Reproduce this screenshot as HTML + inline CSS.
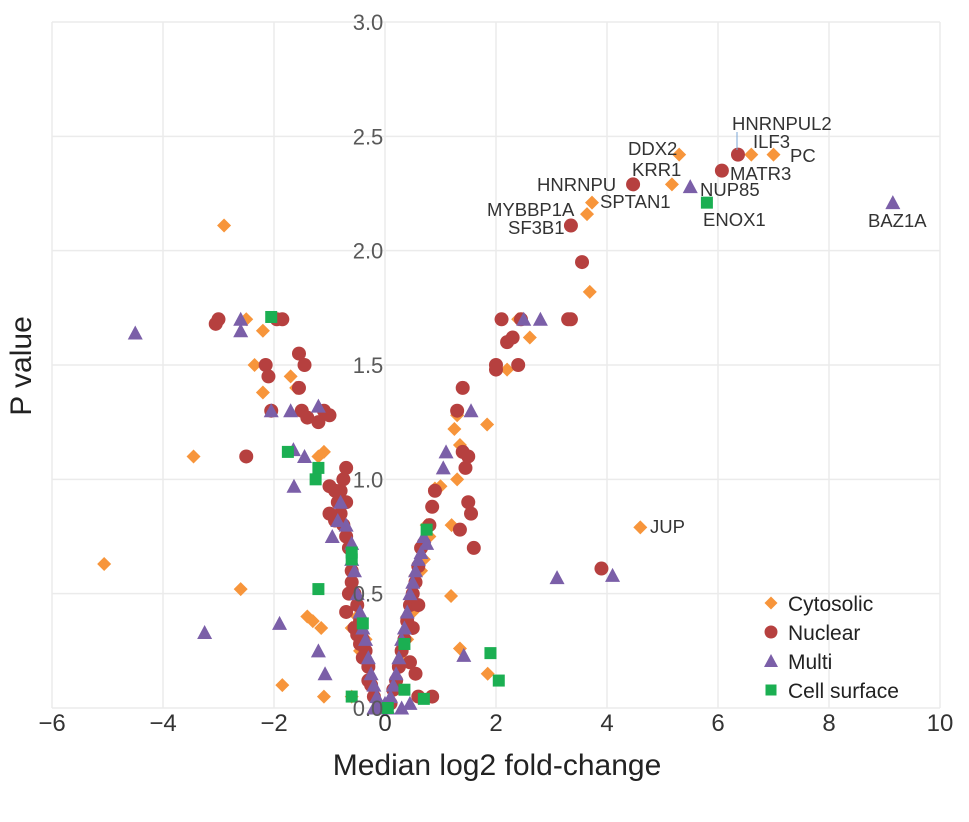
<!DOCTYPE html>
<html><head><meta charset="utf-8"><style>
html,body{margin:0;padding:0;background:#fff}
svg{display:block;font-family:"Liberation Sans",sans-serif}
</style></head><body>
<svg id="chart" width="969" height="822"></svg>
<script>
const cytoX=[-5.06,-2.9,-3.45,-2.6,-1.85,-2.35,-2.2,-2.5,-1.7,-1.6,-2.2,-1.2,-1.1,-1.4,-1.3,-1.15,-1.1,-0.6,1.3,1.25,1.35,1.0,0.9,1.3,1.2,1.19,1.84,1.35,1.85,0.75,0.8,2.2,2.61,2.0,3.35,3.69,2.4,3.64,3.73,5.17,5.3,6.6,7.0,4.6,-0.35,-0.45,-0.5,-0.6,0.4,0.5,0.55,0.65,0.7,0.35,0.4];
const cytoY=[0.63,2.11,1.1,0.52,0.1,1.5,1.65,1.7,1.45,1.4,1.38,1.1,1.12,0.4,0.38,0.35,0.05,0.05,1.28,1.22,1.15,0.97,0.96,1.0,0.8,0.49,1.24,0.26,0.15,0.8,0.75,1.48,1.62,1.5,1.7,1.82,1.7,2.16,2.21,2.29,2.42,2.42,2.42,0.79,0.3,0.25,0.4,0.35,0.4,0.42,0.58,0.6,0.65,0.2,0.3];
const nucX=[-3.0,-3.05,-2.5,-2.15,-2.1,-2.05,-1.95,-1.85,-1.55,-1.45,-1.55,-1.5,-1.4,-1.1,-1.0,-1.2,-0.7,-0.8,-1.0,1.4,1.3,1.4,1.5,1.45,1.5,1.55,1.35,1.6,2.2,2.0,2.0,2.4,2.3,2.1,2.45,3.3,3.35,3.35,3.55,4.47,6.07,6.36,3.9,
-0.2,-0.25,-0.3,-0.35,-0.4,-0.45,-0.5,-0.55,-0.6,-0.6,-0.65,-0.7,-0.75,-0.8,-0.85,-0.9,-0.7,-0.75,-0.3,-0.4,-0.5,-0.45,-0.9,-1.0,-0.65,-0.7,-0.55,
0.1,0.15,0.2,0.25,0.3,0.35,0.4,0.45,0.5,0.55,0.6,0.65,0.7,0.8,0.85,0.9,0.6,0.5,0.45,0.55,0.6,0.85];
const nucY=[1.7,1.68,1.1,1.5,1.45,1.3,1.7,1.7,1.55,1.5,1.4,1.3,1.27,1.3,1.28,1.25,1.05,0.95,0.97,1.4,1.3,1.12,1.1,1.05,0.9,0.85,0.78,0.7,1.6,1.5,1.48,1.5,1.62,1.7,1.7,1.7,1.7,2.11,1.95,2.29,2.35,2.42,0.61,
0.05,0.1,0.18,0.25,0.3,0.38,0.45,0.5,0.55,0.6,0.7,0.75,0.8,0.85,0.9,0.95,0.9,1.0,0.12,0.22,0.32,0.28,0.82,0.85,0.5,0.42,0.35,
0.02,0.08,0.12,0.18,0.25,0.3,0.38,0.45,0.5,0.55,0.62,0.7,0.72,0.8,0.88,0.95,0.45,0.35,0.2,0.15,0.05,0.05];
const multiX=[-4.5,-2.6,-2.6,-2.05,-1.7,-1.2,-1.65,-1.64,-1.45,-3.25,-1.9,-1.08,-1.2,3.1,4.1,1.42,1.05,1.1,1.55,2.5,2.8,5.5,9.15,
-0.1,-0.15,-0.2,-0.25,-0.3,-0.35,-0.4,-0.45,-0.5,-0.55,-0.6,-0.7,-0.8,-0.85,-0.95,-0.6,-0.05,-0.2,0,
0.05,0.1,0.15,0.2,0.25,0.3,0.35,0.4,0.45,0.5,0.55,0.6,0.65,0.7,0.75,0.3,0.45];
const multiY=[1.64,1.7,1.65,1.3,1.3,1.32,1.13,0.97,1.1,0.33,0.37,0.15,0.25,0.57,0.58,0.23,1.05,1.12,1.3,1.7,1.7,2.28,2.21,
0.02,0.05,0.1,0.15,0.22,0.3,0.35,0.42,0.5,0.6,0.72,0.8,0.9,0.82,0.75,0.65,0.0,0.0,0.02,
0.0,0.05,0.1,0.15,0.22,0.3,0.35,0.42,0.5,0.55,0.6,0.65,0.68,0.75,0.72,0.0,0.02];
const cellX=[-2.05,-1.75,-1.2,-1.25,-0.6,-1.2,-0.6,-0.4,0.05,0.35,0.7,0.35,0.75,2.05,1.9,5.8,-0.6];
const cellY=[1.71,1.12,1.05,1.0,0.65,0.52,0.05,0.37,0.0,0.28,0.04,0.08,0.78,0.12,0.24,2.21,0.68];
const xTicks=[-6,-4,-2,0,2,4,6,8,10];
const xTickLabels=["\u22126","\u22124","\u22122","0","2","4","6","8","10"];
const yTicks=[0,0.5,1,1.5,2,2.5,3];
const yTickLabels=["0.0","0.5","1.0","1.5","2.0","2.5","3.0"];
const geneNames=["HNRNPUL2","ILF3","PC","DDX2","MATR3","KRR1","HNRNPU","NUP85","SPTAN1","MYBBP1A","ENOX1","SF3B1","BAZ1A","JUP"];

const X0=52,X1=940,Y0=708,Y1=22;
const sx=v=>X0+(v+6)/16*(X1-X0);
const sy=v=>Y0-v/3*(Y0-Y1);
const NS="http://www.w3.org/2000/svg";
const svg=document.getElementById('chart');
function mk(tag,attrs,parent){const e=document.createElementNS(NS,tag);for(const k in attrs)e.setAttribute(k,attrs[k]);(parent||svg).appendChild(e);return e;}

const grid=mk('g',{});


xTicks.forEach(t=>mk('line',{x1:sx(t),x2:sx(t),y1:Y1,y2:Y0,stroke:'#ebebeb','stroke-width':1.5},grid));
yTicks.forEach(t=>mk('line',{x1:X0,x2:X1,y1:sy(t),y2:sy(t),stroke:'#ebebeb','stroke-width':1.5},grid));

const xl=mk('g',{});


xTicks.forEach((t,i)=>{const e=mk('text',{x:sx(t),y:731,'text-anchor':'middle','font-size':24,fill:'#333'},xl);e.textContent=xTickLabels[i];});

const pts=mk('g',{});


cytoX.forEach((x,i)=>{const cx=sx(x),cy=sy(cytoY[i]);const e=mk('polygon',{points:`${cx},${cy-7} ${cx+7},${cy} ${cx},${cy+7} ${cx-7},${cy}`,fill:'#F7953B'},pts);

});
nucX.forEach((x,i)=>{const e=mk('circle',{cx:sx(x),cy:sy(nucY[i]),r:7,fill:'#B6403F'},pts);

});
multiX.forEach((x,i)=>{const cx=sx(x),cy=sy(multiY[i]);const e=mk('polygon',{points:`${cx},${cy-7.5} ${cx+7.5},${cy+6.5} ${cx-7.5},${cy+6.5}`,fill:'#7B5FA8'},pts);

});
cellX.forEach((x,i)=>{const e=mk('rect',{x:sx(x)-6,y:sy(cellY[i])-6,width:12,height:12,fill:'#1BAF52'},pts);

});

const yl=mk('g',{});


yTicks.forEach((t,i)=>{const e=mk('text',{x:368,y:sy(t)+8,'text-anchor':'middle','font-size':22,fill:'#595959'},yl);e.textContent=yTickLabels[i];});

mk('line',{x1:737,x2:737,y1:132,y2:150,stroke:'#7aa6d6','stroke-width':1});
const labPos=[[732,130],[753,148],[790,162],[628,155],[730,180],[632,176],[537,191],[700,196],[600,208],[487,216],[703,226],[508,234],[868,227],[650,533]];
const gl=mk('g',{});


geneNames.forEach((n,i)=>{const e=mk('text',{x:labPos[i][0],y:labPos[i][1],'font-size':18.5,fill:'#333'},gl);e.textContent=n;

});

const xt=mk('text',{x:497,y:775,'text-anchor':'middle','font-size':30,fill:'#222'});xt.textContent='Median log2 fold-change';


const yt=mk('text',{x:0,y:0,'text-anchor':'middle','font-size':30,fill:'#222',transform:'translate(31,366) rotate(-90)'});yt.textContent='P value';



const lg=mk('g',{});


const legNames=["Cytosolic","Nuclear","Multi","Cell surface"];
legNames.forEach((n,i)=>{const cy=603+i*29,cx=771;
let m;
if(i==0)m=mk('polygon',{points:`${cx},${cy-6.5} ${cx+6.5},${cy} ${cx},${cy+6.5} ${cx-6.5},${cy}`,fill:'#F7953B'},lg);
else if(i==1)m=mk('circle',{cx,cy,r:6.5,fill:'#B6403F'},lg);
else if(i==2)m=mk('polygon',{points:`${cx},${cy-7} ${cx+7},${cy+6} ${cx-7},${cy+6}`,fill:'#7B5FA8'},lg);
else m=mk('rect',{x:cx-5.5,y:cy-5.5,width:11,height:11,fill:'#1BAF52'},lg);
const t=mk('text',{x:788,y:cy+8,'font-size':21,fill:'#222'},lg);t.textContent=n;

});
</script>
</body></html>
